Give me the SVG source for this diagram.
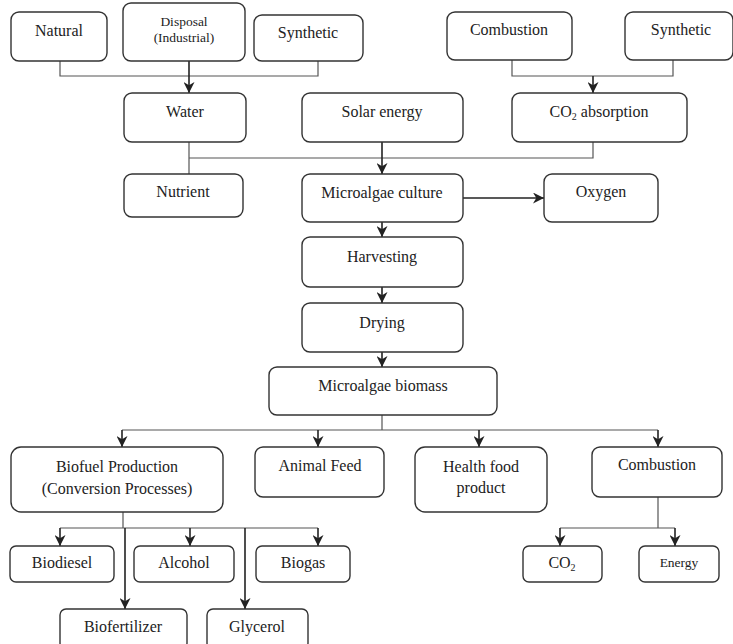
<svg xmlns="http://www.w3.org/2000/svg" width="733" height="644" viewBox="0 0 733 644">
<style>
.b{fill:#fff;stroke:#333;stroke-width:1.4}
.t{font-family:"Liberation Serif","Times New Roman",serif;font-size:16px;fill:#222;text-anchor:middle}
.s{font-size:13.5px}
.l{fill:none;stroke:#555;stroke-width:1.2}
.a{fill:none;stroke:#222;stroke-width:1.6;marker-end:url(#ah)}
</style>
<defs>
<marker id="ah" markerUnits="userSpaceOnUse" markerWidth="11" markerHeight="11" viewBox="0 0 10 10" refX="10" refY="5" orient="auto">
<path d="M0,0 L10,5 L0,10 L3,5 z" fill="#222"/>
</marker>
</defs>
<rect width="733" height="644" fill="#fff"/>
<g id="connectors">
<path class="l" d="M60,61 V76 H318 V61"/>
<path class="a" d="M189,61 V93"/>
<path class="l" d="M512,60 V76 H673 V60"/>
<path class="a" d="M593,76 V93"/>
<path class="l" d="M189,142 V174 M189,158 H593 V142"/>
<path class="a" d="M382,142 V174"/>
<path class="a" d="M463,198 H544"/>
<path class="a" d="M382,222 V237"/>
<path class="a" d="M382,287 V303"/>
<path class="a" d="M382,352 V367"/>
<path class="l" d="M382,415 V430 M122,430 H658"/>
<path class="a" d="M122,430 V447"/>
<path class="a" d="M318,430 V447"/>
<path class="a" d="M479,430 V447"/>
<path class="a" d="M658,430 V447"/>
<path class="l" d="M123,512 V528 M60,528 H318"/>
<path class="a" d="M60,528 V546"/>
<path class="a" d="M190,528 V546"/>
<path class="a" d="M318,528 V546"/>
<path class="a" d="M125,528 V609"/>
<path class="a" d="M245,528 V609"/>
<path class="l" d="M658,497 V528 M560,528 H675"/>
<path class="a" d="M560,528 V546"/>
<path class="a" d="M675,528 V546"/>
</g>
<g id="natural"><rect class="b" x="11" y="12" width="96" height="49" rx="8"/><text class="t" x="59" y="36">Natural</text></g>
<g id="disposal"><rect class="b" x="123" y="3" width="122" height="58" rx="8"/><text class="t s" x="184" y="26">Disposal</text><text class="t s" x="184" y="42">(Industrial)</text></g>
<g id="synthetic1"><rect class="b" x="254" y="15" width="109" height="46" rx="8"/><text class="t" x="308" y="38">Synthetic</text></g>
<g id="combustion1"><rect class="b" x="447" y="12" width="125" height="48" rx="8"/><text class="t" x="509" y="35">Combustion</text></g>
<g id="synthetic2"><rect class="b" x="625" y="12" width="108" height="48" rx="8"/><text class="t" x="681" y="35">Synthetic</text></g>
<g id="water"><rect class="b" x="124" y="93" width="122" height="49" rx="8"/><text class="t" x="185" y="117">Water</text></g>
<g id="solar"><rect class="b" x="302" y="93" width="161" height="49" rx="8"/><text class="t" x="382" y="117">Solar energy</text></g>
<g id="co2abs"><rect class="b" x="512" y="93" width="175" height="49" rx="8"/><text class="t" x="599" y="117">CO<tspan font-size="10" dy="3">2</tspan><tspan dy="-3"> absorption</tspan></text></g>
<g id="nutrient"><rect class="b" x="124" y="174" width="119" height="43" rx="8"/><text class="t" x="183" y="197">Nutrient</text></g>
<g id="culture"><rect class="b" x="302" y="174" width="161" height="48" rx="8"/><text class="t" x="382" y="198">Microalgae culture</text></g>
<g id="oxygen"><rect class="b" x="544" y="174" width="114" height="48" rx="8"/><text class="t" x="601" y="197">Oxygen</text></g>
<g id="harvesting"><rect class="b" x="302" y="237" width="161" height="50" rx="8"/><text class="t" x="382" y="262">Harvesting</text></g>
<g id="drying"><rect class="b" x="302" y="303" width="161" height="49" rx="8"/><text class="t" x="382" y="328">Drying</text></g>
<g id="biomass"><rect class="b" x="269" y="367" width="228" height="48" rx="8"/><text class="t" x="383" y="391">Microalgae biomass</text></g>
<g id="biofuel"><rect class="b" x="11" y="447" width="212" height="65" rx="10"/><text class="t" x="117" y="472">Biofuel Production</text><text class="t" x="117" y="494">(Conversion Processes)</text></g>
<g id="animalfeed"><rect class="b" x="255" y="447" width="129" height="50" rx="8"/><text class="t" x="320" y="471">Animal Feed</text></g>
<g id="healthfood"><rect class="b" x="415" y="447" width="132" height="65" rx="10"/><text class="t" x="481" y="472">Health food</text><text class="t" x="481" y="493">product</text></g>
<g id="combustion2"><rect class="b" x="592" y="447" width="130" height="50" rx="8"/><text class="t" x="657" y="470">Combustion</text></g>
<g id="biodiesel"><rect class="b" x="10" y="546" width="104" height="36" rx="6"/><text class="t" x="62" y="568">Biodiesel</text></g>
<g id="alcohol"><rect class="b" x="134" y="546" width="100" height="36" rx="6"/><text class="t" x="184" y="568">Alcohol</text></g>
<g id="biogas"><rect class="b" x="256" y="546" width="94" height="36" rx="6"/><text class="t" x="303" y="568">Biogas</text></g>
<g id="biofertilizer"><rect class="b" x="60" y="609" width="127" height="40" rx="6"/><text class="t" x="123" y="632">Biofertilizer</text></g>
<g id="glycerol"><rect class="b" x="207" y="609" width="101" height="40" rx="6"/><text class="t" x="257" y="632">Glycerol</text></g>
<g id="co2"><rect class="b" x="523" y="546" width="79" height="36" rx="6"/><text class="t" x="562" y="568">CO<tspan font-size="10" dy="3">2</tspan></text></g>
<g id="energy"><rect class="b" x="639" y="546" width="80" height="36" rx="6"/><text class="t s" x="679" y="567">Energy</text></g>
</svg>
